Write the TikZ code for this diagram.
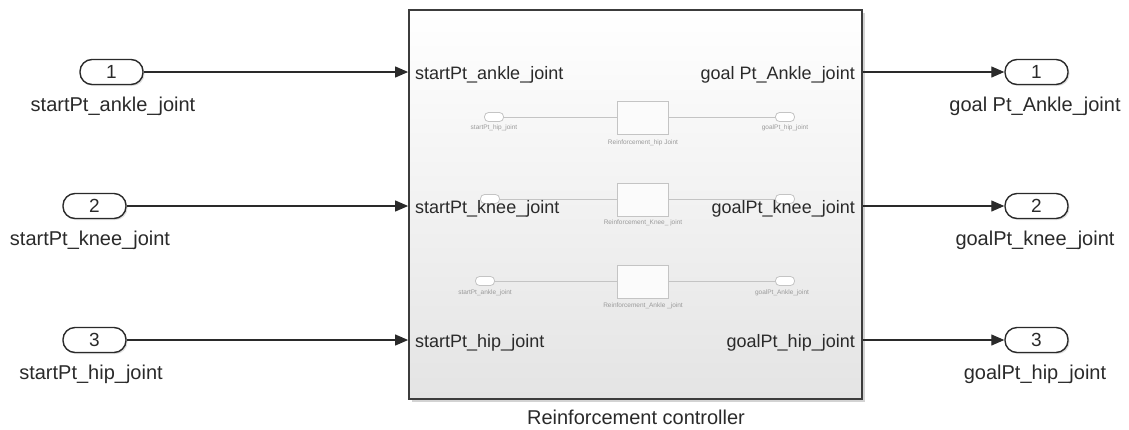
\documentclass[tikz,border=0pt]{standalone}
\usepackage{fontspec}
\setmainfont{Liberation Sans}
\usetikzlibrary{arrows.meta,shadows}
\definecolor{ink}{HTML}{2A2A2A}
\definecolor{frame}{HTML}{3C3C3C}
\definecolor{faintline}{HTML}{C4C4C4}
\definecolor{fainttext}{HTML}{9A9A9A}
\definecolor{blockbottom}{HTML}{E4E4E4}
\tikzset{
  port/.style={draw=ink, line width=1.4pt, fill=white, rounded corners=12pt,
    minimum width=63pt, minimum height=25pt, inner sep=0pt, text=ink,
    font=\fontsize{19}{22}\selectfont,
    drop shadow={shadow xshift=1.5pt, shadow yshift=-1.5pt, opacity=0.25}},
  portlabel/.style={anchor=base, text=ink, inner sep=0pt, font=\fontsize{20}{24}\selectfont},
  pinlabel/.style={text=ink, inner sep=0pt, font=\fontsize{18}{22}\selectfont},
  blockbox/.style={draw=frame, line width=1.8pt, top color=white, bottom color=blockbottom,
    minimum width=453pt, minimum height=389pt, inner sep=0pt,
    drop shadow={shadow xshift=2.5pt, shadow yshift=-2.5pt, opacity=0.35}},
  sig/.style={draw=ink, line width=1.2pt, -{Triangle[length=13pt,width=11pt]}},
  miniport/.style={draw=faintline, line width=0.8pt, fill=white, rounded corners=4pt,
    minimum width=19pt, minimum height=9pt, inner sep=0pt},
  minibox/.style={draw=faintline, line width=0.8pt, fill=white!97!gray,
    minimum width=51pt, minimum height=33pt, inner sep=0pt},
  miniwire/.style={draw=faintline, line width=0.8pt},
  minitext/.style={text=fainttext, inner sep=0pt, font=\fontsize{6.5}{8}\selectfont},
}
\begin{document}
\begin{tikzpicture}[x=1pt, y=-1pt]
\useasboundingbox (0,0) rectangle (1129,429);

% subsystem block
\node[blockbox] (ctrl) at (635.5,204.5) {};
\node[portlabel] (ctrlname) at (636,424) {Reinforcement controller};

% faint inner contents of the subsystem
\node[minibox] (rb1) at (642.5,118) {};
\node[minibox] (rb2) at (642.5,199.5) {};
\node[minibox] (rb3) at (642.5,281.5) {};
\node[miniport] (ma1) at (494,117) {};
\node[miniport] (ma2) at (490,199) {};
\node[miniport] (ma3) at (485,281) {};
\node[miniport] (mb1) at (785,117) {};
\node[miniport] (mb2) at (785,199) {};
\node[miniport] (mb3) at (785,281) {};
\draw[miniwire] (ma1) -- (rb1.west |- ma1);
\draw[miniwire] (rb1.east |- mb1) -- (mb1);
\draw[miniwire] (ma2) -- (rb2.west |- ma2);
\draw[miniwire] (rb2.east |- mb2) -- (mb2);
\draw[miniwire] (ma3) -- (rb3.west |- ma3);
\draw[miniwire] (rb3.east |- mb3) -- (mb3);
\node[minitext] (mta1) at (494,128) {startPt\_hip\_joint};
\node[minitext] (mtb1) at (785,128) {goalPt\_hip\_joint};
\node[minitext] (mtr1) at (643,143) {Reinforcement\_hip Joint};
\node[minitext] (mtr2) at (643,223) {Reinforcement\_Knee\_ joint};
\node[minitext] (mta3) at (485,293) {startPt\_ankle\_joint};
\node[minitext] (mtb3) at (782,293) {goalPt\_Ankle\_joint};
\node[minitext] (mtr3) at (643,306) {Reinforcement\_Ankle \_joint};

% port labels inside the block
\node[pinlabel, anchor=base west] (pi1) at (415,79) {startPt\_ankle\_joint};
\node[pinlabel, anchor=base west] (pi2) at (415,213) {startPt\_knee\_joint};
\node[pinlabel, anchor=base west] (pi3) at (415,347) {startPt\_hip\_joint};
\node[pinlabel, anchor=base east] (po1) at (855,79) {goal Pt\_Ankle\_joint};
\node[pinlabel, anchor=base east] (po2) at (855,213) {goalPt\_knee\_joint};
\node[pinlabel, anchor=base east] (po3) at (855,347) {goalPt\_hip\_joint};

% inports
\node[port] (in1) at (111.5,72) {1};
\node[port] (in2) at (94.5,206) {2};
\node[port] (in3) at (94.5,340) {3};
\node[portlabel] (lin1) at (113,111) {startPt\_ankle\_joint};
\node[portlabel] (lin2) at (90,245) {startPt\_knee\_joint};
\node[portlabel] (lin3) at (91,379) {startPt\_hip\_joint};

% outports
\node[port] (out1) at (1036.5,72) {1};
\node[port] (out2) at (1036.5,206) {2};
\node[port] (out3) at (1036.5,340) {3};
\node[portlabel] (lout1) at (1035,111) {goal Pt\_Ankle\_joint};
\node[portlabel] (lout2) at (1035,245) {goalPt\_knee\_joint};
\node[portlabel] (lout3) at (1035,379) {goalPt\_hip\_joint};

% signal lines
\draw[sig] (in1) -- (in1 -| ctrl.west);
\draw[sig] (in2) -- (in2 -| ctrl.west);
\draw[sig] (in3) -- (in3 -| ctrl.west);
\draw[sig] (out1 -| ctrl.east) -- (out1);
\draw[sig] (out2 -| ctrl.east) -- (out2);
\draw[sig] (out3 -| ctrl.east) -- (out3);
\end{tikzpicture}
\end{document}
